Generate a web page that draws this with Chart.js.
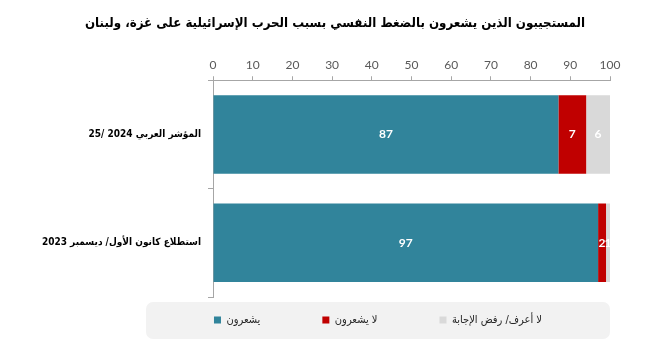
<!DOCTYPE html>
<html><head><meta charset="utf-8">
<script src="https://cdn.jsdelivr.net/npm/chart.js@4/dist/chart.umd.min.js"></script>
<style>html,body{margin:0;padding:0;background:#fff}canvas{direction:rtl;display:block}</style>
</head><body>
<canvas id="c" width="647" height="359"></canvas>
<script>
const titleText = 'المستجيبون الذين يشعرون بالضغط النفسي بسبب الحرب الإسرائيلية على غزة، ولبنان';
const categories = ['المؤشر العربي 2024 /25', 'استطلاع كانون الأول/ ديسمبر 2023'];
const seriesNames = ['يشعرون', 'لا يشعرون', 'لا أعرف/ رفض الإجابة'];
const feel = [87, 97];
const notFeel = [7, 2];
const dontKnow = [6, 1];
const xMin = 0, xMax = 100, xStep = 10;

const colors = ['#31849B', '#C00000', '#D9D9D9'];
const arabicFont = "'DejaVu Sans Condensed', 'DejaVu Sans', sans-serif";
const numFont = "Lato, 'Open Sans', sans-serif";

const legendPlacement = {
  id: 'legendPlacement',
  afterLayout(chart) {
    const lg = chart.legend;
    if (lg) {
      const pad = chart.options.plugins.legend.labels.padding;
      lg.top = 320 - 5.5 - pad;
      lg.bottom = chart.height;
      lg.height = lg.bottom - lg.top;
      lg.left += 73; lg.right += 73;
    }
    const tb = chart.titleBlock;
    if (tb) { tb.left += 30; tb.right += 30; }
  },
  beforeDraw(chart) {
    const ca = chart.chartArea, ctx = chart.ctx;
    const x0 = ca.left - 67, x1 = ca.right, y0 = ca.bottom + 5, y1 = chart.height - 20;
    ctx.save();
    ctx.fillStyle = '#F2F2F2';
    ctx.beginPath();
    if (ctx.roundRect) ctx.roundRect(x0, y0, x1 - x0, y1 - y0, 7); else ctx.rect(x0, y0, x1 - x0, y1 - y0);
    ctx.fill();
    ctx.restore();
  }
};

const valueLabels = {
  id: 'valueLabels',
  afterDatasetsDraw(chart) {
    const ctx = chart.ctx;
    ctx.save();
    ctx.fillStyle = '#FFFFFF';
    ctx.font = 'bold 12px ' + numFont;
    ctx.textAlign = 'center';
    ctx.textBaseline = 'middle';
    chart.data.datasets.forEach((ds, di) => {
      const meta = chart.getDatasetMeta(di);
      meta.data.forEach((el, i) => {
        const v = ds.data[i];
        if (!v) return;
        const p = el.getCenterPoint();
        ctx.fillText(String(v), p.x, p.y);
      });
    });
    ctx.restore();
  }
};

new Chart(document.getElementById('c'), {
  type: 'bar',
  data: {
    labels: categories,
    datasets: [
      { label: seriesNames[0], data: feel, backgroundColor: colors[0] },
      { label: seriesNames[1], data: notFeel, backgroundColor: colors[1] },
      { label: seriesNames[2], data: dontKnow, backgroundColor: colors[2] }
    ]
  },
  options: {
    indexAxis: 'y',
    responsive: false,
    animation: false,
    devicePixelRatio: 1,
    datasets: { bar: { categoryPercentage: 1, barPercentage: 0.725 } },
    layout: { padding: { left: 0, right: 37, top: 0, bottom: 0 } },
    scales: {
      x: {
        position: 'top', stacked: true, min: xMin, max: xMax,
        ticks: { stepSize: xStep, color: '#595959', font: { family: numFont, size: 12 }, padding: 4 },
        grid: { drawOnChartArea: false, tickLength: 4, color: '#A6A6A6' },
        border: { color: '#A6A6A6' }
      },
      y: {
        stacked: true,
        ticks: { color: '#000', font: { family: arabicFont, size: 10, weight: 'bold' }, padding: 7 },
        grid: { offset: true, drawOnChartArea: false, tickLength: 5, color: '#A6A6A6' },
        border: { color: '#A6A6A6' },
        afterFit(s) { s.width = 213; }
      }
    },
    plugins: {
      title: {
        display: true, text: titleText, color: '#000',
        font: { family: arabicFont, size: 13.2, weight: 'bold' },
        padding: { top: 16, bottom: 22 }
      },
      legend: {
        position: 'bottom', maxHeight: 62, textDirection: 'rtl',
        labels: { boxWidth: 7, boxHeight: 7, padding: 62, color: '#262626', font: { family: arabicFont, size: 11 } }
      },
      tooltip: { enabled: false }
    }
  },
  plugins: [legendPlacement, valueLabels]
});
</script>
</body></html>
